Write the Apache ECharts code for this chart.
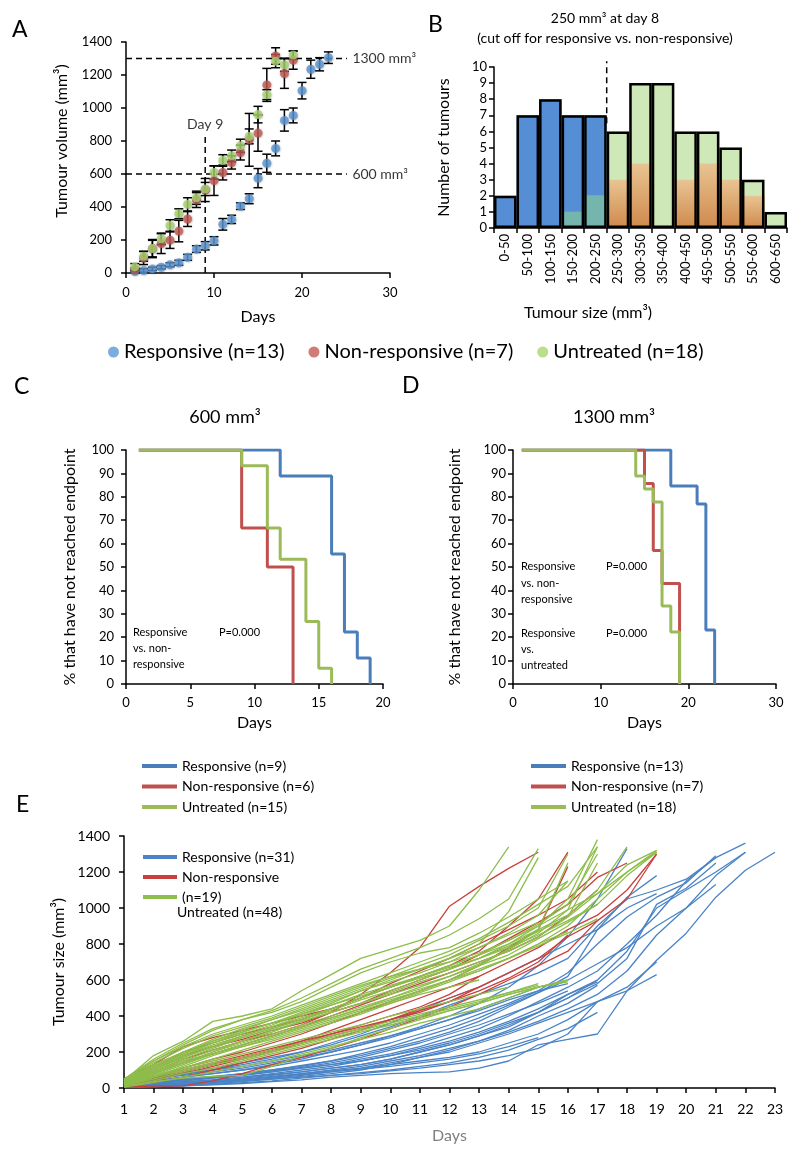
<!DOCTYPE html>
<html><head><meta charset="utf-8">
<script src="https://cdn.jsdelivr.net/npm/echarts@6/dist/echarts.min.js"></script>
<style>html,body{margin:0;padding:0;background:#fff}#c{width:800px;height:1156px}</style>
</head><body><div id="c"></div>
<script>
const F = 'Lato, "Noto Sans", sans-serif';

// ---------- Panel A : mean tumour volume per day (day = index + 1) ----------
const aRespMean = [10,15,25,35,50,62,95,145,165,195,295,325,405,450,575,665,755,925,955,1105,1235,1265,1305];
const aRespErr  = [5,10,10,10,12,15,18,20,25,25,35,25,20,30,58,55,45,65,45,50,55,40,35];
const aNonMean  = [20,91,148,178,199,254,327,442,503,560,609,670,730,807,848,1140,1315,1209,1290];
const aNonErr   = [10,40,55,60,50,65,45,45,70,90,45,40,45,160,110,100,50,90,55];
const aUntMean  = [37,101,148,207,288,359,416,456,509,609,682,710,771,828,960,1081,1284,1262,1321];
const aUntErr   = [20,30,50,35,35,30,40,40,40,40,35,35,40,45,50,30,40,40,25];

// ---------- Panel B : histogram of tumour size at day 8 ----------
const bBins = ['0-50','50-100','100-150','150-200','200-250','250-300','300-350','350-400','400-450','450-500','500-550','550-600','600-650'];
const bResp = [2,7,8,7,7,0,0,0,0,0,0,0,0];
const bNon  = [0,0,0,0,0,3,4,0,3,4,3,2,0];
const bUnt  = [0,0,0,1,2,6,9,9,6,6,5,3,1];

// ---------- Panel C : 600 mm3 endpoint (day, % not reached) ----------
const cResp = [[1,100],[12,88.9],[16,55.6],[17,22.2],[18,11.1],[19,0]];
const cNon  = [[1,100],[9,66.7],[11,50],[13,0]];
const cUnt  = [[1,100],[9,93.3],[11,66.7],[12,53.3],[14,26.7],[15,6.7],[16,0]];

// ---------- Panel D : 1300 mm3 endpoint ----------
const dResp = [[1,100],[18,84.6],[21,76.9],[22,23.1],[23,0]];
const dNon  = [[1,100],[15,85.7],[16,57.1],[17,42.9],[19,0]];
const dUnt  = [[1,100],[14,88.9],[15,83.3],[16,77.8],[17,33.3],[18,22.2],[19,0]];

// ---------- Panel E : individual growth curves (values from day 1) ----------
const eResp = [
 [10,15,20,30,40,55,70,90,110,140,170,200,250,300,360,420,480,540,710,860,1060,1210,1310],
 [20,30,40,55,70,90,110,130,160,190,230,280,330,400,480,560,650,800,960,1150,1280,1360],
 [15,25,35,45,60,75,90,110,130,160,200,240,290,350,420,500,600,760,1000,1100,1200,1310],
 [5,10,20,30,45,60,80,100,120,150,180,220,260,310,370,440,520,650,850,1000,1180,1310],
 [25,40,60,80,100,120,150,180,210,250,300,350,410,470,540,640,800,950,1060,1140,1290],
 [10,20,30,40,55,70,90,110,130,160,200,240,290,340,420,500,580,720,1020,1110,1250],
 [35,60,85,110,140,170,200,240,290,340,400,460,520,580,640,720,900,1050,1100,1160,1280],
 [20,40,60,80,100,130,160,200,240,290,340,400,470,560,680,840,1050,1330],
 [5,8,12,18,25,35,45,60,70,80,85,90,110,150,240,270,300,540,630],
 [15,30,45,60,80,100,125,150,180,220,260,310,370,450,530,620,880,1060,1180],
 [10,20,30,45,60,80,100,120,150,180,220,260,310,370,440,520,590],
 [40,60,80,100,120,150,180,210,250,290,330,380,430,490,540,580],
 [5,10,15,25,35,50,65,80,100,130,170,210,260,320,400,470,570],
 [20,30,45,60,75,95,115,140,170,210,250,300,350,410,470,540],
 [10,15,25,35,50,65,80,95,110,130,150,170,200,250,300,380,480],
 [30,50,70,90,110,140,170,200,240,280,330,380,440,500,560],
 [15,25,40,55,70,90,110,130,150,180,210,250,300,360,420,520,600],
 [25,50,75,100,130,160,200,250,300,360,430,500,560,640,720,800,880,1000,1080],
 [5,8,12,20,30,40,55,70,85,100,120,140,170,210,270,330,420],
 [10,15,25,35,45,60,75,90,105,120,140,160,190,230,280],
 [20,35,50,65,80,100,120,150,190,230,280,330,390,460,530,600,690,780,900,1000,1130],
 [15,20,25,30,40,50,60,70,80,95,110,130,150,180,220,300,480,560,700]
];
const eNon = [
 [30,90,160,210,260,300,350,420,520,640,780,1010,1120,1220,1310],
 [40,110,200,250,300,340,380,440,500,560,620,680,760,900,1050,1310],
 [20,60,110,160,200,250,300,360,420,480,540,600,680,780,880,1230],
 [10,30,60,100,140,180,220,270,320,380,440,500,560,640,720,840,930,1050,1300],
 [20,50,90,130,170,210,260,320,380,440,500,560,620,700,780,880,960,1100,1300],
 [30,80,140,190,240,290,340,400,460,520,580,640,700,760,840,960,1100],
 [15,40,80,120,160,200,250,300,350,400,450,520,620],
 [25,60,100,140,180,220,260,300,340,380,420,480,560],
 [20,50,90,130,170,210,250,290,330,380,430,480,540,610,700,850],
 [5,10,12,40,80,130,170,220,270,330,390,450,520,600,680,760,930],
 [50,130,230,280,320,360,400,440,500,580,650,720,800,880,960,1050,1200],
 [35,100,180,230,270,320,360,420,470,540,600,660,740,830,920,1020,1170,1250]
];
const eUnt = [
 [40,180,260,370,400,440,540,630,720,770,820,900,1100,1340],
 [50,150,240,320,380,430,500,580,660,720,780,850,940,1050,1330],
 [20,100,180,250,300,350,410,470,540,600,660,720,800,980,1280],
 [35,120,200,270,330,380,440,500,560,620,680,740,820,900,1000,1300],
 [25,90,160,220,280,330,380,430,490,540,600,660,720,800,900,1050,1380],
 [15,70,130,190,240,290,340,390,440,500,560,620,690,770,860,990,1340],
 [45,140,220,290,340,390,450,510,570,620,660,700,750,820,910,1020,1300],
 [30,100,170,230,290,340,390,440,500,560,620,680,740,800,880,960,1100,1340],
 [20,80,140,200,250,300,350,400,450,500,550,600,650,720,800,900,1050,1200,1320],
 [40,120,190,250,310,360,410,460,510,560,610,660,720,790,870,950,1080,1240,1320],
 [10,60,120,180,230,280,330,380,430,480,540,600,680,770,880,1250],
 [35,110,190,260,310,360,420,480,540,590,640,700,780,860,960,1150],
 [20,80,150,210,260,310,370,420,470,530,590,640,700,760,840,950,1250],
 [10,40,80,110,150,190,230,270,310,350,390,430,470,520,560,600],
 [20,60,100,140,170,210,250,290,330,370,410,450,490,530,580],
 [5,30,60,90,120,150,190,230,270,310,360,400,440,500,560,590],
 [15,50,90,130,160,200,240,280,320,360,400,440,480,530,570],
 [25,70,110,150,190,230,270,310,350,400,440,480,520,560],
 [10,35,55,65,70,120,180,220,280,330,380,430,470,520,560,600],
 [30,90,150,190,230,270,320,370,420,470,520,560,600],
 [40,130,200,260,320,380,430,490,550,610,660,720,780,850,920],
 [20,80,140,190,240,290,340,390,440,490,540,600,660,720,800,870],
 [50,160,250,330,380,420,480,560,640,700,750,780,860,950,1050,1150],
 [15,60,110,160,210,260,310,360,410,470,530,590,650,720,790,860,940],
 [35,100,170,230,280,330,380,440,500,560,620,680,740,820,900,990,1080,1200,1310],
 [25,80,140,200,260,320,370,420,470,520,570,620,680,740,830,920,1020],
 [45,150,230,300,350,400,460,520,580,640,700,760,830,920,1020,1120,1340],
 [30,110,180,240,290,340,400,460,520,570,620,670,720,780,850,930,1020,1180,1310]
];

const LBL = {
  A_resp:'Responsive (n=13)', A_non:'Non-responsive (n=7)', A_unt:'Untreated (n=18)',
  C_resp:'Responsive (n=9)', C_non:'Non-responsive (n=6)', C_unt:'Untreated (n=15)',
  D_resp:'Responsive (n=13)', D_non:'Non-responsive (n=7)', D_unt:'Untreated (n=18)',
  E_resp:'Responsive (n=31)', E_non:'Non-responsive', E_unt:'(n=19)'
};

const chart = echarts.init(document.getElementById('c'));
const plain = v => String(v);

function ax(gridIndex, type, min, max, interval, extra) {
  const o = {
    gridIndex, type, min, max, interval,
    axisLine:{show:true, onZero:false, lineStyle:{color:'#000', width:1.5}},
    axisTick:{show:true, length:5, lineStyle:{color:'#000', width:1.5}},
    axisLabel:{color:'#000', fontFamily:F, fontSize:13, margin:8},
    splitLine:{show:false},
    nameLocation:'middle',
    nameTextStyle:{color:'#000', fontFamily:F, fontSize:16}
  };
  if (type === 'value') o.axisLabel.formatter = plain;
  if (extra) {
    for (const k in extra) {
      if (k === 'axisLabel' || k === 'nameTextStyle') o[k] = Object.assign({}, o[k], extra[k]);
      else o[k] = extra[k];
    }
  }
  return o;
}

function errRender(params, api) {
  const x = api.value(0), m = api.value(1), e = api.value(2);
  const p1 = api.coord([x, m + e]), p2 = api.coord([x, m - e]);
  const w = 4.5, st = {stroke:'#000', lineWidth:1.5};
  return {type:'group', children:[
    {type:'line', shape:{x1:p1[0], y1:p1[1], x2:p2[0], y2:p2[1]}, style:st},
    {type:'line', shape:{x1:p1[0]-w, y1:p1[1], x2:p1[0]+w, y2:p1[1]}, style:st},
    {type:'line', shape:{x1:p2[0]-w, y1:p2[1], x2:p2[0]+w, y2:p2[1]}, style:st}
  ]};
}

const series = [];
const colA = {resp:'#5b97d6', non:'#c65a55', unt:'#a9d66f'};
[['A_resp', aRespMean, aRespErr], ['A_non', aNonMean, aNonErr], ['A_unt', aUntMean, aUntErr]].forEach(([n, mean, err]) => {
  series.push({type:'custom', xAxisIndex:0, yAxisIndex:0, z:3, silent:true, renderItem:errRender,
    encode:{x:0, y:1}, data: mean.map((v,i)=>[i+1, v, err[i]])});
});
[['A_resp', aRespMean, colA.resp], ['A_non', aNonMean, colA.non], ['A_unt', aUntMean, colA.unt]].forEach(([n, mean, c]) => {
  series.push({type:'scatter', name:n, xAxisIndex:0, yAxisIndex:0, z:4, symbolSize:9,
    itemStyle:{color:c, shadowBlur:2, shadowColor:'rgba(0,0,0,0.35)', shadowOffsetX:0.5, shadowOffsetY:0.5},
    data: mean.map((v,i)=>[i+1, v])});
});
const dash = {type:[6,4], color:'#000', width:1.5};
series.push({type:'line', xAxisIndex:0, yAxisIndex:0, z:1, silent:true, symbol:'none', lineStyle:dash, data:[[0,1300],[25.1,1300]]});
series.push({type:'line', xAxisIndex:0, yAxisIndex:0, z:1, silent:true, symbol:'none', lineStyle:dash, data:[[0,600],[25.1,600]]});
series.push({type:'line', xAxisIndex:0, yAxisIndex:0, z:1, silent:true, symbol:'none', lineStyle:dash, data:[[9,0],[9,825]]});
series.push({type:'scatter', xAxisIndex:0, yAxisIndex:0, silent:true, symbolSize:1, itemStyle:{color:'rgba(0,0,0,0)'},
  label:{show:true, color:'#000', fontFamily:F, fontSize:14},
  data:[
    {value:[25.1,1300], label:{position:'right', distance:5, formatter:'1300 mm³'}},
    {value:[25.1,600], label:{position:'right', distance:5, formatter:'600 mm³'}},
    {value:[9,825], label:{position:'top', distance:5, formatter:'Day 9'}}
  ]});

// Panel B bars (overlaid; overlap regions drawn in the blended colours)
const bOverR = bResp.map((v,i)=>Math.min(v, bUnt[i]));
const bOverN = bNon.map((v,i)=>Math.min(v, bUnt[i]));
const bMax = bResp.map((v,i)=>Math.max(v, bNon[i], bUnt[i]));
const tan = new echarts.graphic.LinearGradient(0,0,0,1,[{offset:0,color:'#e9c493'},{offset:1,color:'#cf894c'}]);
const barCommon = {type:'bar', xAxisIndex:1, yAxisIndex:1, barGap:'-100%', barCategoryGap:'0%', silent:true};
series.push(Object.assign({}, barCommon, {itemStyle:{color:'#558ed5'}, data:bResp}));
series.push(Object.assign({}, barCommon, {itemStyle:{color:tan}, data:bNon}));
series.push(Object.assign({}, barCommon, {itemStyle:{color:'#cfe8b8'}, data:bUnt}));
series.push(Object.assign({}, barCommon, {itemStyle:{color:'#74b6ad'}, data:bOverR}));
series.push(Object.assign({}, barCommon, {itemStyle:{color:tan}, data:bOverN}));
series.push(Object.assign({}, barCommon, {itemStyle:{color:'rgba(0,0,0,0)', borderColor:'#000', borderWidth:2.5}, data:bMax}));
series.push({type:'line', xAxisIndex:2, yAxisIndex:1, silent:true, clip:false, symbol:'none', z:5, lineStyle:dash, data:[[5,6.5],[5,10.35]]});

// Panels C, D (Kaplan-Meier steps)
const km = {blue:'#4a7ebb', red:'#c0504d', green:'#9bbb59'};
[['C_resp', cResp, km.blue], ['C_non', cNon, km.red], ['C_unt', cUnt, km.green]].forEach(([n,d,c]) => {
  series.push({type:'line', name:n, step:'end', xAxisIndex:3, yAxisIndex:2, symbol:'none', silent:true,
    color:c, lineStyle:{color:c, width:3}, data:d});
});
[['D_resp', dResp, km.blue], ['D_non', dNon, km.red], ['D_unt', dUnt, km.green]].forEach(([n,d,c]) => {
  series.push({type:'line', name:n, step:'end', xAxisIndex:4, yAxisIndex:3, symbol:'none', silent:true,
    color:c, lineStyle:{color:c, width:3}, data:d});
});

// Panel E spaghetti
const eCol = {resp:'#4a84c6', non:'#c8413d', unt:'#8dbd4a'};
[['E_resp', eResp, eCol.resp], ['E_non', eNon, eCol.non], ['E_unt', eUnt, eCol.unt]].forEach(([n, lines, c]) => {
  lines.forEach(arr => {
    series.push({type:'line', name:n, xAxisIndex:5, yAxisIndex:4, symbol:'none', silent:true,
      color:c, lineStyle:{color:c, width:1.3}, data: arr.map((v,i)=>[i+1, v])});
  });
});

function T(x, y, text, size, o) {
  return Object.assign({type:'text', x, y, silent:true,
    style:Object.assign({text, fontFamily:F, fontSize:size, fill:'#000', align:'left', verticalAlign:'middle'}, (o && o.style) || {})},
    (o && o.rotation) ? {rotation:o.rotation} : {});
}

const graphics = [
  T(12, 30, 'A', 23), T(428, 25, 'B', 23), T(14, 387, 'C', 23), T(402, 386, 'D', 23), T(16, 805, 'E', 23),
  T(62, 141, 'Tumour volume (mm³)', 16, {rotation:Math.PI/2, style:{align:'center'}}),
  T(605, 18, '250 mm³ at day 8', 14, {style:{align:'center'}}),
  T(605, 38, '(cut off for responsive vs. non-responsive)', 14, {style:{align:'center'}}),
  T(588, 313, 'Tumour size (mm³)', 16, {style:{align:'center'}}),
  T(225, 417, '600 mm³', 18, {style:{align:'center'}}),
  T(614, 417, '1300 mm³', 18, {style:{align:'center'}}),
  T(133, 632, 'Responsive', 11), T(133, 648, 'vs. non-', 11), T(133, 664, 'responsive', 11), T(219, 632, 'P=0.000', 11),
  T(521, 566, 'Responsive', 11), T(521, 583, 'vs. non-', 11), T(521, 599, 'responsive', 11), T(606, 566, 'P=0.000', 11),
  T(521, 633, 'Responsive', 11), T(521, 649, 'vs.', 11), T(521, 665, 'untreated', 11), T(606, 633, 'P=0.000', 11),
  T(177, 912, 'Untreated (n=48)', 14)
];

const legText = {color:'#000', fontFamily:F, fontSize:14, lineHeight:16};
const fmt = n => LBL[n];

chart.setOption({
  animation:false,
  backgroundColor:'#fff',
  textStyle:{fontFamily:F},
  grid:[
    {left:126, top:42, width:264, height:231, outerBoundsMode:'none'},
    {left:494, top:67, width:293, height:161, outerBoundsMode:'none'},
    {left:126, top:450, width:257, height:234, outerBoundsMode:'none'},
    {left:513, top:450, width:263, height:234, outerBoundsMode:'none'},
    {left:124, top:836, width:651, height:252, outerBoundsMode:'none'}
  ],
  xAxis:[
    ax(0,'value',0,30,10,{name:'Days', nameGap:36, axisLabel:{margin:13}}),
    ax(1,'category',null,null,null,{data:bBins, axisLabel:{rotate:90, margin:6, interval:0}}),
    {gridIndex:1, type:'value', min:0, max:13, show:false},
    ax(2,'value',0,20,5,{name:'Days', nameGap:31, axisLabel:{margin:12}}),
    ax(3,'value',0,30,10,{name:'Days', nameGap:31, axisLabel:{margin:12}}),
    ax(4,'value',1,23,1,{name:'Days', nameGap:40, axisLabel:{margin:14, fontSize:14}, nameTextStyle:{color:'#7f7f7f'}})
  ],
  yAxis:[
    ax(0,'value',0,1400,200,{axisLabel:{margin:14}}),
    ax(1,'value',0,10,1,{name:'Number of tumours', nameGap:42, axisLabel:{margin:7}}),
    ax(2,'value',0,100,10,{name:'% that have not reached endpoint', nameGap:48, axisLabel:{margin:12}}),
    ax(3,'value',0,100,10,{name:'% that have not reached endpoint', nameGap:50, axisLabel:{margin:7}}),
    ax(4,'value',0,1400,200,{name:'Tumour size (mm³)', nameGap:55, axisLabel:{margin:14, fontSize:14}})
  ],
  legend:[
    {data:['A_resp','A_non','A_unt'], formatter:fmt, selectedMode:false, orient:'horizontal', left:103, top:337,
      icon:'circle', itemWidth:11, itemHeight:11, itemGap:24, textStyle:{color:'#000', fontFamily:F, fontSize:20}},
    {data:['C_resp','C_non','C_unt'], formatter:fmt, selectedMode:false, orient:'vertical', left:137, top:753,
      icon:'rect', itemWidth:35, itemHeight:4, itemGap:4.5, textStyle:legText},
    {data:['D_resp','D_non','D_unt'], formatter:fmt, selectedMode:false, orient:'vertical', left:526, top:753,
      icon:'rect', itemWidth:35, itemHeight:4, itemGap:4.5, textStyle:legText},
    {data:['E_resp','E_non','E_unt'], formatter:fmt, selectedMode:false, orient:'vertical', left:138, top:844,
      icon:'rect', itemWidth:34, itemHeight:4, itemGap:4, textStyle:legText}
  ],
  series,
  graphic:graphics
});
</script></body></html>
